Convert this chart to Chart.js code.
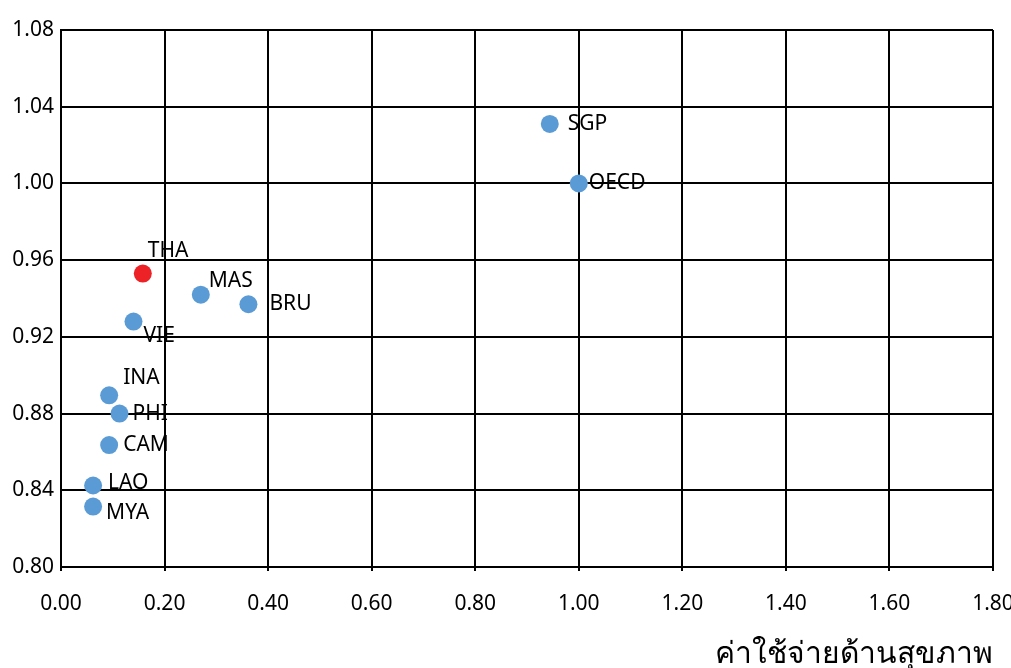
<!DOCTYPE html>
<html>
<head>
<meta charset="utf-8">
<script src="https://cdn.jsdelivr.net/npm/chart.js@4.4.0/dist/chart.umd.min.js"></script>
<style>
  html, body { margin: 0; padding: 0; background: #fff; }
  #wrap { width: 1011px; height: 668px; }
</style>
</head>
<body>
<div id="wrap"><canvas id="chart" width="1011" height="668"></canvas></div>
<script>
// data
const countries = ['SGP', 'OECD', 'THA', 'MAS', 'BRU', 'VIE', 'INA', 'PHI', 'CAM', 'LAO', 'MYA'];
const healthSpend = [0.944, 1.00, 0.158, 0.270, 0.362, 0.140, 0.093, 0.113, 0.093, 0.062, 0.062];
const outcomeIndex = [1.031, 1.00, 0.953, 0.942, 0.937, 0.928, 0.8895, 0.880, 0.8636, 0.8425, 0.8315];
const xTicks = [0, 0.2, 0.4, 0.6, 0.8, 1.0, 1.2, 1.4, 1.6, 1.8];
const yTicks = [0.80, 0.84, 0.88, 0.92, 0.96, 1.00, 1.04, 1.08];
const xTitle = 'ค่าใช้จ่ายด้านสุขภาพ';

// label offsets from each point (px), same order as countries
const labelDx = [18, 10, 5, 8, 21, 10, 14, 13, 14, 15, 13];
const labelDy = [0, 0, -23, -14, 0, 15, -17, 0, 0, -2, 6];

const BLUE = '#5B9BD5';
const RED = '#EC2227';
const FONT = "'Noto Sans', 'Open Sans', sans-serif";

const points = countries.map((c, i) => ({ x: healthSpend[i], y: outcomeIndex[i] }));
const colors = countries.map(c => c === 'THA' ? RED : BLUE);

// draws the country code next to each dot
const pointLabels = {
    id: 'pointLabels',
    afterDatasetsDraw(chart) {
        const ctx = chart.ctx;
        const meta = chart.getDatasetMeta(0);
        ctx.save();
        ctx.font = '21px ' + FONT;
        ctx.fillStyle = '#000';
        ctx.textAlign = 'left';
        ctx.textBaseline = 'middle';
        meta.data.forEach((el, i) => {
            ctx.fillText(countries[i], el.x + labelDx[i], el.y + labelDy[i]);
        });
        ctx.restore();
    }
};

new Chart(document.getElementById('chart'), {
    type: 'scatter',
    data: {
        datasets: [{
            data: points,
            backgroundColor: colors,
            borderColor: colors,
            borderWidth: 0,
            pointRadius: 9,
            pointHoverRadius: 9
        }]
    },
    options: {
        responsive: false,
        animation: false,
        layout: { padding: { top: 30, right: 18, left: 0, bottom: 0 } },
        plugins: { legend: { display: false }, tooltip: { enabled: false } },
        scales: {
            x: {
                type: 'linear',
                min: 0,
                max: 1.8,
                afterBuildTicks: s => { s.ticks = xTicks.map(v => ({ value: v })); },
                afterFit: s => { s.height = 101; s.paddingLeft = 0; s.paddingRight = 0; },
                border: { color: '#000', width: 2 },
                grid: { color: '#000', lineWidth: 2, tickLength: 4 },
                ticks: {
                    color: '#000',
                    padding: 20,
                    maxRotation: 0,
                    font: { family: FONT, size: 21 },
                    callback: v => v.toFixed(2)
                },
                title: {
                    display: true,
                    text: xTitle,
                    align: 'end',
                    color: '#000',
                    font: { family: FONT, size: 30 },
                    padding: { top: 0, bottom: -4 }
                }
            },
            y: {
                type: 'linear',
                min: 0.80,
                max: 1.08,
                afterBuildTicks: s => { s.ticks = yTicks.map(v => ({ value: v })); },
                afterFit: s => { s.width = 61; s.paddingTop = 0; s.paddingBottom = 0; },
                border: { color: '#000', width: 2 },
                grid: { color: '#000', lineWidth: 2, drawTicks: false },
                ticks: {
                    color: '#000',
                    padding: 7,
                    font: { family: FONT, size: 21 },
                    callback: v => v.toFixed(2)
                }
            }
        }
    },
    plugins: [pointLabels]
});
</script>
</body>
</html>
